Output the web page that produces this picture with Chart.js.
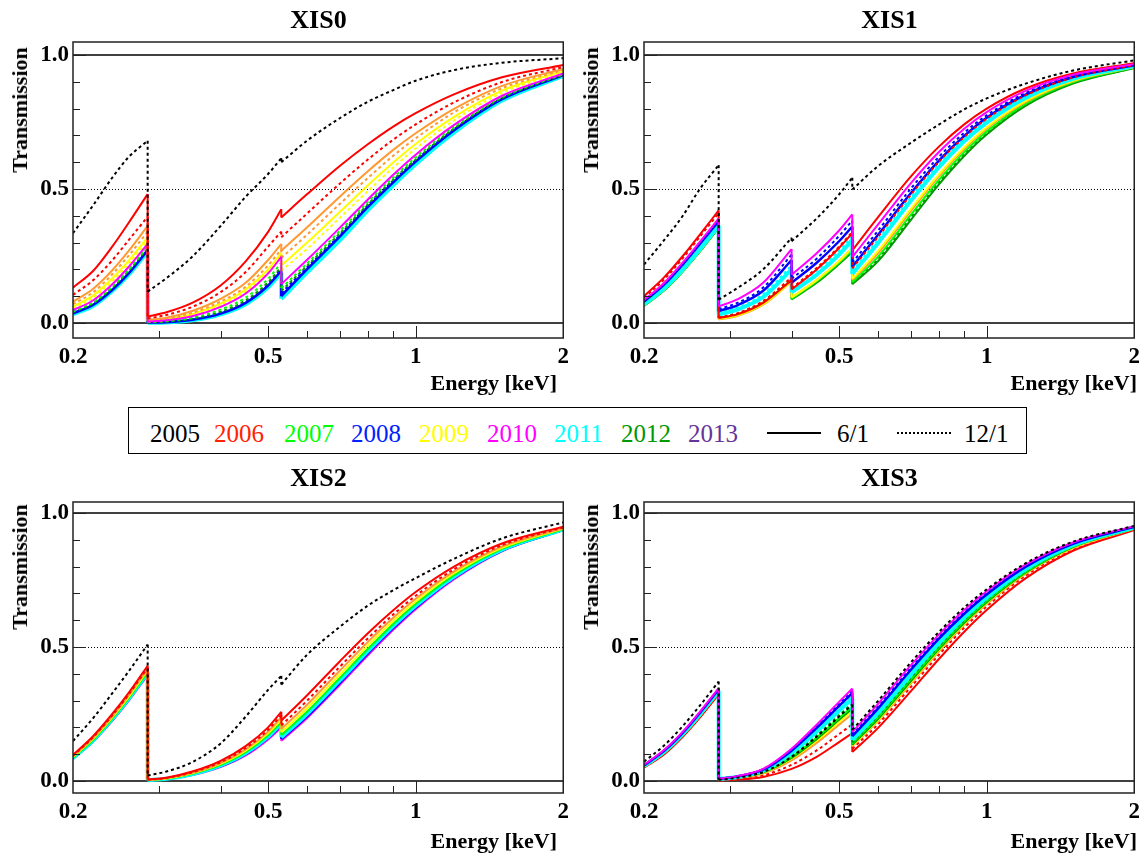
<!DOCTYPE html>
<html>
<head>
<meta charset="utf-8">
<script src="https://cdn.jsdelivr.net/npm/chart.js@4.4.0/dist/chart.umd.min.js"></script>
<style>
  body { margin: 0; background: #fff; width: 1148px; height: 857px; position: relative; overflow: hidden;
         font-family: "Liberation Serif", "Times New Roman", serif; }
  canvas { position: absolute; }
  .ptitle { position: absolute; font-weight: bold; font-size: 26px; line-height: 26px; transform: translateX(-50%); white-space: nowrap; }
  .ylab { position: absolute; font-weight: bold; font-size: 22px; line-height: 22px; white-space: nowrap;
          transform: translate(-50%, -50%) rotate(-90deg); }
  .xlab { position: absolute; font-weight: bold; font-size: 22px; line-height: 22px; white-space: nowrap; transform: translateX(-100%); }
  #legend { position: absolute; left: 128px; top: 407px; width: 897px; height: 45px; border: 1px solid #000; }
  #legend span { position: absolute; top: 13px; font-size: 25px; line-height: 25px; white-space: nowrap; }
  #legend .sample { position: absolute; top: 24px; height: 0; }
</style>
</head>
<body>
<div id="legend"></div>
<script>
// energy grids in keV; a repeated value marks an absorption edge
const energyCO = [0.2, 0.22, 0.24, 0.26, 0.284, 0.284, 0.31, 0.35, 0.40, 0.45, 0.50, 0.532,
                  0.532, 0.6, 0.7, 0.8, 0.9, 1.0, 1.2, 1.5, 2.0];
const energyCNO = [0.2, 0.22, 0.24, 0.26, 0.284, 0.284, 0.31, 0.35, 0.40, 0.40, 0.45, 0.50, 0.532,
                   0.532, 0.6, 0.7, 0.8, 0.9, 1.0, 1.2, 1.5, 2.0];

// launch (2005 6/1): no contamination
const launchEnergy = [0.2, 2.0];
const launchTrans = [1.0, 1.0];

// XIS0 transmission
const xis0BlackDot = [0.335,0.44,0.54,0.62,0.68, 0.117,0.167,0.247,0.362,0.471,0.556,0.615, 0.60,0.68,0.764,0.826,0.869,0.904,0.944,0.971,0.988];
const xis0Red = [0.132,0.195,0.283,0.375,0.481, 0.024,0.04,0.075,0.14,0.23,0.34,0.424, 0.394,0.480,0.586,0.668,0.733,0.783,0.854,0.917,0.963];
const xis0RedDot = [0.105,0.16,0.232,0.31,0.397, 0.017,0.03,0.06,0.115,0.19,0.285,0.341, 0.320,0.408,0.520,0.611,0.684,0.741,0.824,0.899,0.955];
const xis0Orange = [0.08,0.128,0.195,0.27,0.362, 0.011,0.02,0.045,0.09,0.15,0.235,0.295, 0.270,0.356,0.471,0.567,0.646,0.708,0.800,0.885,0.948];
const xis0OrangeDot = [0.07,0.115,0.18,0.252,0.341, 0.009,0.017,0.038,0.08,0.135,0.215,0.275, 0.243,0.329,0.444,0.542,0.624,0.689,0.787,0.876,0.944];
const xis0Yellow = [0.061,0.103,0.165,0.234,0.32, 0.007,0.014,0.033,0.072,0.125,0.2,0.262, 0.215,0.299,0.414,0.515,0.599,0.668,0.770,0.867,0.940];
const xis0YellowDot = [0.055,0.095,0.155,0.222,0.307, 0.006,0.012,0.03,0.066,0.117,0.192,0.255, 0.195,0.276,0.392,0.493,0.580,0.651,0.757,0.859,0.936];
const xis0Magenta = [0.048,0.085,0.143,0.21,0.295, 0.005,0.01,0.025,0.06,0.11,0.185,0.247, 0.145,0.235,0.355,0.462,0.553,0.628,0.740,0.848,0.931];
const xis0GreenDot = [0.043,0.078,0.134,0.2,0.285, 0.003,0.007,0.02,0.05,0.095,0.165,0.225, 0.13,0.222,0.343,0.453,0.543,0.618,0.733,0.843,0.928];
const xis0DarkGreenDot = [0.04,0.074,0.13,0.195,0.28, 0.002,0.005,0.016,0.042,0.085,0.152,0.21, 0.12,0.213,0.334,0.444,0.535,0.610,0.727,0.839,0.927];
const xis0BlueDot = [0.039,0.072,0.127,0.192,0.277, 0.002,0.004,0.014,0.04,0.08,0.147,0.205, 0.112,0.207,0.328,0.440,0.531,0.607,0.724,0.838,0.926];
const xis0Blue = [0.036,0.068,0.122,0.186,0.272, 0.001,0.003,0.012,0.035,0.075,0.14,0.195, 0.10,0.20,0.322,0.434,0.525,0.602,0.720,0.835,0.925];
const xis0Cyan = [0.033,0.064,0.118,0.181,0.267, 0.001,0.002,0.01,0.032,0.07,0.133,0.188, 0.09,0.188,0.308,0.422,0.514,0.592,0.712,0.830,0.922];

// XIS1 transmission (extra N edge at 0.40 keV)
const xis1BlackDot = [0.218,0.31,0.40,0.5,0.589, 0.087,0.13,0.2,0.318, 0.305,0.39,0.48,0.542, 0.498,0.585,0.672,0.741,0.797,0.838,0.893,0.942,0.98];
const xis1Red = [0.1,0.171,0.25,0.33,0.42, 0.018,0.032,0.075,0.16, 0.125,0.2,0.28,0.335, 0.271,0.394,0.546,0.659,0.741,0.800,0.875,0.931,0.969];
const xis1RedDot = [0.095,0.163,0.242,0.322,0.41, 0.02,0.036,0.082,0.17, 0.13,0.205,0.285,0.34, 0.204,0.321,0.478,0.602,0.694,0.762,0.849,0.916,0.962];
const xis1Magenta = [0.085,0.15,0.226,0.303,0.39, 0.062,0.088,0.15,0.276, 0.18,0.26,0.345,0.405, 0.246,0.367,0.521,0.639,0.725,0.787,0.866,0.926,0.966];
const xis1BlueDot = [0.082,0.147,0.222,0.299,0.385, 0.052,0.075,0.132,0.255, 0.165,0.24,0.325,0.382, 0.225,0.344,0.501,0.621,0.710,0.775,0.858,0.921,0.964];
const xis1Blue = [0.08,0.144,0.219,0.295,0.38, 0.045,0.066,0.12,0.235, 0.15,0.225,0.305,0.36, 0.210,0.328,0.484,0.607,0.698,0.766,0.852,0.918,0.962];
const xis1CyanDot = [0.074,0.136,0.208,0.283,0.37, 0.038,0.057,0.107,0.215, 0.125,0.195,0.27,0.325, 0.194,0.310,0.468,0.593,0.687,0.756,0.845,0.914,0.961];
const xis1Cyan = [0.07,0.13,0.2,0.275,0.365, 0.032,0.05,0.097,0.2, 0.115,0.18,0.255,0.31, 0.183,0.298,0.455,0.582,0.678,0.748,0.840,0.911,0.959];
const xis1Yellow = [0.067,0.126,0.196,0.27,0.36, 0.015,0.028,0.07,0.155, 0.095,0.16,0.23,0.28, 0.165,0.268,0.425,0.555,0.655,0.730,0.828,0.904,0.956];
const xis1Orange = [0.067,0.126,0.196,0.27,0.36, 0.013,0.026,0.068,0.155, 0.095,0.16,0.23,0.28, 0.16,0.260,0.417,0.548,0.649,0.725,0.824,0.902,0.955];
const xis1Green = [0.065,0.123,0.193,0.268,0.357, 0.017,0.03,0.075,0.16, 0.09,0.155,0.225,0.272, 0.152,0.247,0.403,0.535,0.638,0.715,0.818,0.898,0.953];
const xis1DarkGreenDot = [0.066,0.124,0.194,0.269,0.358, 0.02,0.035,0.08,0.165, 0.093,0.157,0.228,0.275, 0.148,0.238,0.394,0.527,0.631,0.710,0.814,0.896,0.952];
const xis1DarkGreen = [0.064,0.122,0.192,0.266,0.355, 0.018,0.032,0.076,0.158, 0.088,0.15,0.22,0.265, 0.145,0.230,0.384,0.518,0.623,0.703,0.810,0.893,0.951];

// XIS2 transmission
const xis2BlackDot = [0.149,0.235,0.325,0.41,0.509, 0.02,0.035,0.07,0.14,0.24,0.34,0.392, 0.36,0.47,0.575,0.655,0.712,0.757,0.83,0.905,0.965];
const xis2Red = [0.097,0.168,0.248,0.33,0.43, 0.005,0.012,0.035,0.075,0.13,0.2,0.258, 0.225,0.319,0.446,0.552,0.637,0.705,0.801,0.886,0.949];
const xis2RedDot = [0.094,0.164,0.243,0.324,0.423, 0.004,0.011,0.032,0.07,0.123,0.191,0.246, 0.207,0.299,0.426,0.533,0.621,0.691,0.791,0.880,0.946];
const xis2Orange = [0.092,0.161,0.239,0.32,0.418, 0.004,0.01,0.03,0.067,0.118,0.184,0.238, 0.194,0.284,0.411,0.520,0.609,0.680,0.783,0.875,0.944];
const xis2Yellow = [0.09,0.158,0.235,0.315,0.413, 0.004,0.009,0.029,0.064,0.113,0.178,0.229, 0.182,0.271,0.397,0.507,0.598,0.670,0.776,0.870,0.942];
const xis2Green = [0.087,0.154,0.231,0.31,0.407, 0.003,0.008,0.027,0.06,0.107,0.171,0.22, 0.171,0.258,0.384,0.494,0.586,0.660,0.769,0.866,0.940];
const xis2Cyan = [0.086,0.152,0.229,0.308,0.404, 0.003,0.008,0.025,0.058,0.104,0.166,0.215, 0.163,0.250,0.375,0.486,0.579,0.654,0.764,0.863,0.939];
const xis2Blue = [0.084,0.15,0.226,0.305,0.4, 0.002,0.007,0.024,0.055,0.1,0.162,0.209, 0.157,0.241,0.366,0.478,0.571,0.647,0.759,0.860,0.937];
const xis2Magenta = [0.082,0.147,0.222,0.3,0.395, 0.002,0.006,0.022,0.052,0.095,0.155,0.2, 0.150,0.234,0.358,0.470,0.564,0.641,0.754,0.857,0.936];

// XIS3 transmission
const xis3BlackDot = [0.072,0.133,0.205,0.281,0.371, 0.004,0.012,0.033,0.09,0.165,0.24,0.285, 0.191,0.298,0.442,0.557,0.647,0.715,0.812,0.893,0.952];
const xis3Magenta = [0.06,0.116,0.184,0.258,0.346, 0.008,0.018,0.045,0.12,0.21,0.295,0.345, 0.182,0.287,0.431,0.547,0.638,0.708,0.807,0.890,0.951];
const xis3BlueDot = [0.059,0.114,0.182,0.256,0.344, 0.008,0.017,0.044,0.116,0.204,0.288,0.337, 0.173,0.277,0.421,0.538,0.630,0.701,0.802,0.887,0.949];
const xis3Blue = [0.058,0.113,0.18,0.254,0.342, 0.007,0.017,0.042,0.113,0.198,0.28,0.328, 0.167,0.270,0.414,0.532,0.624,0.696,0.799,0.885,0.948];
const xis3CyanDot = [0.057,0.111,0.178,0.251,0.339, 0.007,0.016,0.041,0.109,0.192,0.273,0.32, 0.159,0.261,0.403,0.522,0.616,0.689,0.794,0.882,0.947];
const xis3Cyan = [0.056,0.11,0.176,0.249,0.337, 0.007,0.015,0.038,0.104,0.184,0.262,0.308, 0.153,0.253,0.396,0.515,0.610,0.684,0.790,0.880,0.946];
const xis3DarkGreenDot = [0.055,0.108,0.174,0.247,0.335, 0.006,0.014,0.035,0.095,0.17,0.246,0.29, 0.144,0.242,0.384,0.504,0.600,0.676,0.783,0.876,0.944];
const xis3Green = [0.055,0.107,0.173,0.246,0.334, 0.006,0.013,0.033,0.09,0.162,0.235,0.278, 0.140,0.237,0.379,0.499,0.596,0.672,0.780,0.875,0.943];
const xis3DarkGreen = [0.054,0.106,0.172,0.245,0.333, 0.005,0.012,0.032,0.086,0.156,0.228,0.27, 0.135,0.231,0.372,0.493,0.590,0.667,0.777,0.873,0.942];
const xis3Yellow = [0.053,0.105,0.171,0.243,0.331, 0.005,0.012,0.03,0.083,0.15,0.22,0.262, 0.132,0.227,0.368,0.489,0.587,0.664,0.775,0.871,0.942];
const xis3Orange = [0.053,0.104,0.17,0.242,0.33, 0.005,0.011,0.028,0.077,0.142,0.21,0.25, 0.129,0.223,0.363,0.484,0.583,0.660,0.773,0.869,0.941];
const xis3RedDot = [0.051,0.102,0.167,0.239,0.326, 0.003,0.008,0.021,0.06,0.114,0.175,0.211, 0.120,0.211,0.350,0.472,0.572,0.651,0.766,0.865,0.939];
const xis3Red = [0.05,0.1,0.165,0.236,0.323, 0.002,0.005,0.015,0.045,0.09,0.145,0.178, 0.108,0.197,0.334,0.456,0.557,0.638,0.756,0.859,0.936];

// axis ticks
const xTickValues = [0.2, 0.5, 1, 2];
const xMinorTicks = [0.3, 0.4, 0.6, 0.7, 0.8, 0.9];
const yTickValues = [0.0, 0.5, 1.0];
const yMinorTicks = [0.1, 0.2, 0.3, 0.4, 0.6, 0.7, 0.8, 0.9];

// legend entries
const legendYears = ['2005', '2006', '2007', '2008', '2009', '2010', '2011', '2012', '2013'];
const legendDates = ['6/1', '12/1'];

const styles = {
  black:        { color: '#000000', dash: [] },
  blackDot:     { color: '#000000', dash: [3, 3] },
  red:          { color: '#ff0000', dash: [] },
  redDot:       { color: '#ff0000', dash: [3, 3] },
  orange:       { color: '#ff9933', dash: [] },
  orangeDot:    { color: '#ff9933', dash: [3, 3] },
  yellow:       { color: '#ffff00', dash: [] },
  yellowDot:    { color: '#ffff00', dash: [3, 3] },
  magenta:      { color: '#ff00ff', dash: [] },
  green:        { color: '#00ff00', dash: [] },
  greenDot:     { color: '#00ff00', dash: [3, 3] },
  darkGreen:    { color: '#009900', dash: [] },
  darkGreenDot: { color: '#009900', dash: [3, 3] },
  blue:         { color: '#0000ff', dash: [], width: 2.5 },
  blueDot:      { color: '#0000ff', dash: [3, 3] },
  cyan:         { color: '#00ffff', dash: [], width: 4 },
  cyanDot:      { color: '#00ffff', dash: [3, 3] }
};
const legendColors = ['#000000', '#ff2200', '#00ff00', '#0022ff', '#ffff00', '#ff00ff', '#00ffff', '#009900', '#663399'];

// curves listed bottom-most drawn first
const panels = [
  { name: 'XIS0', left: 0, top: 0, height: 400, plotH: 296, yMin: -0.056, yMax: 1.0485, energy: energyCO, xlabRight: 557,
    curves: [[xis0Cyan, 'cyan'], [xis0Blue, 'blue'], [xis0BlueDot, 'blueDot'], [xis0DarkGreenDot, 'darkGreenDot'],
             [xis0GreenDot, 'greenDot'], [xis0YellowDot, 'yellowDot'], [xis0Yellow, 'yellow'], [xis0OrangeDot, 'orangeDot'],
             [xis0Orange, 'orange'], [xis0Magenta, 'magenta'], [xis0RedDot, 'redDot'], [xis0Red, 'red'], [xis0BlackDot, 'blackDot']] },
  { name: 'XIS1', left: 571, top: 0, height: 400, plotH: 296, yMin: -0.056, yMax: 1.0485, energy: energyCNO, xlabRight: 1137,
    curves: [[xis1DarkGreen, 'darkGreen'], [xis1DarkGreenDot, 'darkGreenDot'], [xis1Green, 'green'], [xis1Orange, 'orange'],
             [xis1Yellow, 'yellow'], [xis1Cyan, 'cyan'], [xis1CyanDot, 'cyanDot'], [xis1Blue, 'blue'], [xis1BlueDot, 'blueDot'],
             [xis1RedDot, 'redDot'], [xis1Red, 'red'], [xis1Magenta, 'magenta'], [xis1BlackDot, 'blackDot']] },
  { name: 'XIS2', left: 0, top: 460, height: 397, plotH: 291, yMin: -0.045, yMax: 1.041, energy: energyCO, xlabRight: 557,
    curves: [[xis2Magenta, 'magenta'], [xis2Blue, 'blue'], [xis2Cyan, 'cyan'], [xis2Green, 'green'], [xis2Yellow, 'yellow'],
             [xis2Orange, 'orange'], [xis2RedDot, 'redDot'], [xis2Red, 'red'], [xis2BlackDot, 'blackDot']] },
  { name: 'XIS3', left: 571, top: 460, height: 397, plotH: 291, yMin: -0.045, yMax: 1.041, energy: energyCO, xlabRight: 1137,
    curves: [[xis3Red, 'red'], [xis3RedDot, 'redDot'], [xis3Orange, 'orange'], [xis3Yellow, 'yellow'], [xis3DarkGreen, 'darkGreen'],
             [xis3Green, 'green'], [xis3DarkGreenDot, 'darkGreenDot'], [xis3Cyan, 'cyan'], [xis3CyanDot, 'cyanDot'],
             [xis3Blue, 'blue'], [xis3BlueDot, 'blueDot'], [xis3Magenta, 'magenta'], [xis3BlackDot, 'blackDot']] }
];

const PLOT_TOP = 42, Y_AXIS_W = 73, PAD_RIGHT = 10, PANEL_W = 574;
const tickFont = { family: "'Liberation Serif', 'Times New Roman', serif", size: 23, weight: 'bold' };

// a repeated energy starts a new branch: insert a gap there
function toPoints(energy, trans) {
  const pts = [];
  energy.forEach((e, i) => {
    if (i > 0 && e === energy[i - 1]) pts.push({ x: e, y: null });
    pts.push({ x: e, y: trans[i] });
  });
  return pts;
}

// frame, reference lines, inward ticks, and the vertical drop at every edge
const framePlugin = {
  id: 'frame',
  beforeDatasetsDraw(chart) {
    const { ctx, chartArea: a, scales: { y } } = chart;
    ctx.save();
    ctx.strokeStyle = '#000';
    ctx.lineWidth = 1;
    ctx.setLineDash([1, 2]);
    ctx.beginPath();
    ctx.moveTo(a.left, Math.round(y.getPixelForValue(0.5)) + 0.5);
    ctx.lineTo(a.right, Math.round(y.getPixelForValue(0.5)) + 0.5);
    ctx.stroke();
    ctx.setLineDash([]);
    ctx.lineWidth = 1.5;
    ctx.beginPath();
    ctx.moveTo(a.left, y.getPixelForValue(0));
    ctx.lineTo(a.right, y.getPixelForValue(0));
    ctx.stroke();
    ctx.restore();
  },
  afterDatasetDraw(chart, args) {
    const ds = chart.data.datasets[args.index];
    const pts = args.meta.data;
    const { ctx, chartArea: a } = chart;
    ctx.save();
    ctx.beginPath();
    ctx.rect(a.left, a.top, a.right - a.left, a.bottom - a.top);
    ctx.clip();
    ctx.strokeStyle = ds.borderColor;
    ctx.lineWidth = ds.borderWidth;
    ctx.setLineDash(ds.borderDash || []);
    for (let i = 1; i < pts.length - 1; i++) {
      if (pts[i].skip && !pts[i - 1].skip && !pts[i + 1].skip) {
        ctx.beginPath();
        ctx.moveTo(pts[i - 1].x, pts[i - 1].y);
        ctx.lineTo(pts[i + 1].x, pts[i + 1].y);
        ctx.stroke();
      }
    }
    ctx.restore();
  },
  afterDraw(chart) {
    const { ctx, chartArea: a, scales: { x, y } } = chart;
    ctx.save();
    ctx.strokeStyle = '#222';
    ctx.lineWidth = 1.5;
    ctx.strokeRect(a.left, a.top, a.right - a.left, a.bottom - a.top);
    ctx.lineWidth = 1;
    ctx.beginPath();
    yMinorTicks.forEach(v => { const py = Math.round(y.getPixelForValue(v)) + 0.5; ctx.moveTo(a.left, py); ctx.lineTo(a.left + 7, py); });
    yTickValues.forEach(v => { const py = Math.round(y.getPixelForValue(v)) + 0.5; ctx.moveTo(a.left, py); ctx.lineTo(a.left + 13, py); });
    xMinorTicks.forEach(v => { const px = Math.round(x.getPixelForValue(v)) + 0.5; ctx.moveTo(px, a.bottom); ctx.lineTo(px, a.bottom - 7); });
    [0.5, 1].forEach(v => { const px = Math.round(x.getPixelForValue(v)) + 0.5; ctx.moveTo(px, a.bottom); ctx.lineTo(px, a.bottom - 12); });
    ctx.stroke();
    ctx.restore();
  }
};

panels.forEach(p => {
  const canvas = document.createElement('canvas');
  canvas.width = PANEL_W;
  canvas.height = p.height;
  canvas.style.left = p.left + 'px';
  canvas.style.top = p.top + 'px';
  document.body.appendChild(canvas);

  const n = p.curves.length;
  const datasets = p.curves.map(([vals, key], i) => {
    const s = styles[key];
    return {
      data: toPoints(p.energy, vals),
      borderColor: s.color,
      borderWidth: s.width || 2,
      borderDash: s.dash,
      order: n + 1 - i
    };
  });
  datasets.push({
    data: toPoints(launchEnergy, launchTrans),
    borderColor: '#000', borderWidth: 1.5, borderDash: [], order: 0
  });

  new Chart(canvas, {
    type: 'line',
    data: { datasets },
    options: {
      responsive: false,
      animation: false,
      events: [],
      layout: { padding: { top: PLOT_TOP, right: PAD_RIGHT, left: 0, bottom: 0 } },
      elements: {
        point: { radius: 0 },
        line: { cubicInterpolationMode: 'monotone', fill: false }
      },
      plugins: { legend: { display: false }, tooltip: { enabled: false } },
      scales: {
        x: {
          type: 'logarithmic', min: 0.2, max: 2,
          grid: { display: false, drawTicks: false }, border: { display: false },
          afterBuildTicks: s => { s.ticks = xTickValues.map(v => ({ value: v })); },
          afterFit: s => { s.height = p.height - PLOT_TOP - p.plotH; },
          ticks: { callback: v => String(v), font: tickFont, color: '#000', padding: 5, maxRotation: 0, autoSkip: false }
        },
        y: {
          min: p.yMin, max: p.yMax,
          grid: { display: false, drawTicks: false }, border: { display: false },
          afterBuildTicks: s => { s.ticks = yTickValues.map(v => ({ value: v })); },
          afterFit: s => { s.width = Y_AXIS_W; },
          ticks: { callback: v => v.toFixed(1), font: tickFont, color: '#000', padding: 4 }
        }
      }
    },
    plugins: [framePlugin]
  });

  // panel title and axis titles
  const title = document.createElement('div');
  title.className = 'ptitle';
  title.textContent = p.name;
  title.style.left = (p.left + Y_AXIS_W + (PANEL_W - Y_AXIS_W - PAD_RIGHT) / 2) + 'px';
  title.style.top = (p.top + (p.top ? 5 : 7)) + 'px';
  document.body.appendChild(title);

  const ylab = document.createElement('div');
  ylab.className = 'ylab';
  ylab.textContent = 'Transmission';
  ylab.style.left = (p.left + 20) + 'px';
  ylab.style.top = (p.top + (p.top ? 107 : 110)) + 'px';
  document.body.appendChild(ylab);

  const xlab = document.createElement('div');
  xlab.className = 'xlab';
  xlab.textContent = 'Energy [keV]';
  xlab.style.left = p.xlabRight + 'px';
  xlab.style.top = (p.top + (p.top ? 370 : 372)) + 'px';
  document.body.appendChild(xlab);
});

// legend: coloured years, then line-style samples
const legend = document.getElementById('legend');
const yearLeft = [21, 85, 155, 222, 290, 358, 425, 492, 559];
legendYears.forEach((yr, i) => {
  const s = document.createElement('span');
  s.textContent = yr;
  s.style.left = yearLeft[i] + 'px';
  s.style.color = legendColors[i];
  legend.appendChild(s);
});
[[638, 'solid', 708, legendDates[0]], [768, 'dotted', 835, legendDates[1]]].forEach(([x, style, tx, label]) => {
  const line = document.createElement('div');
  line.className = 'sample';
  line.style.left = x + 'px';
  line.style.width = '54px';
  line.style.borderTop = '2px ' + style + ' #000';
  legend.appendChild(line);
  const s = document.createElement('span');
  s.textContent = label;
  s.style.left = tx + 'px';
  legend.appendChild(s);
});
</script>
</body>
</html>
